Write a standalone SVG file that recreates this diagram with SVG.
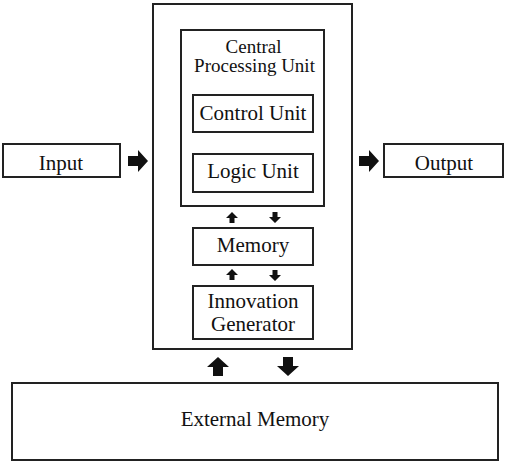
<svg xmlns="http://www.w3.org/2000/svg" width="507" height="461" viewBox="0 0 507 461">
<style>
.box{fill:#fff;stroke:#222;stroke-width:2}
.t{font-family:"Liberation Serif","Times New Roman",serif;fill:#111;text-anchor:middle;font-size:21px}
.s{font-size:19px}
.a{fill:#111}
</style>
<rect width="507" height="461" fill="#fff"/>
<g id="outer"><rect class="box" x="153" y="4" width="199" height="345"/></g>
<g id="cpu"><rect class="box" x="181" y="30" width="143" height="176"/>
<text class="t s" x="253.5" y="53">Central</text>
<text class="t s" x="254.5" y="72">Processing Unit</text></g>
<g id="control"><rect class="box" x="193" y="95" width="120" height="37"/><text class="t" x="253" y="120">Control Unit</text></g>
<g id="logic"><rect class="box" x="193" y="154" width="120" height="38"/><text class="t" x="253" y="178">Logic Unit</text></g>
<g id="memory"><rect class="box" x="193" y="228" width="120" height="37"/><text class="t" x="253" y="252">Memory</text></g>
<g id="innovation"><rect class="box" x="193" y="286" width="120" height="53"/><text class="t" x="253" y="308" font-size="20.5">Innovation</text><text class="t" x="253" y="331" font-size="20.5">Generator</text></g>
<g id="input"><rect class="box" x="3" y="144" width="117" height="33"/><text class="t" x="61" y="170">Input</text></g>
<g id="output"><rect class="box" x="384" y="144" width="119" height="33"/><text class="t" x="444" y="170">Output</text></g>
<g id="external"><rect class="box" x="12" y="383" width="486" height="77"/><text class="t" x="255" y="426">External Memory</text></g>
<g id="connectors">
<path class="a" d="M128,156 h10 v-6 l10,11 l-10,11 v-6 h-10 z"/>
<path class="a" d="M359,156 h10 v-6 l10,11 l-10,11 v-6 h-10 z"/>
<path class="a" d="M232,212 l6,6 h-3.5 v5 h-5 v-5 h-3.5 z"/>
<path class="a" d="M275,223 l6,-6 h-3.5 v-5 h-5 v5 h-3.5 z"/>
<path class="a" d="M232,269 l6,6 h-3.5 v5 h-5 v-5 h-3.5 z"/>
<path class="a" d="M275,281 l6,-6 h-3.5 v-5 h-5 v5 h-3.5 z"/>
<path class="a" d="M218,357 l11,10 h-6 v9 h-10 v-9 h-6 z"/>
<path class="a" d="M288,376 l11,-10 h-6 v-9 h-10 v9 h-6 z"/>
</g>
</svg>
